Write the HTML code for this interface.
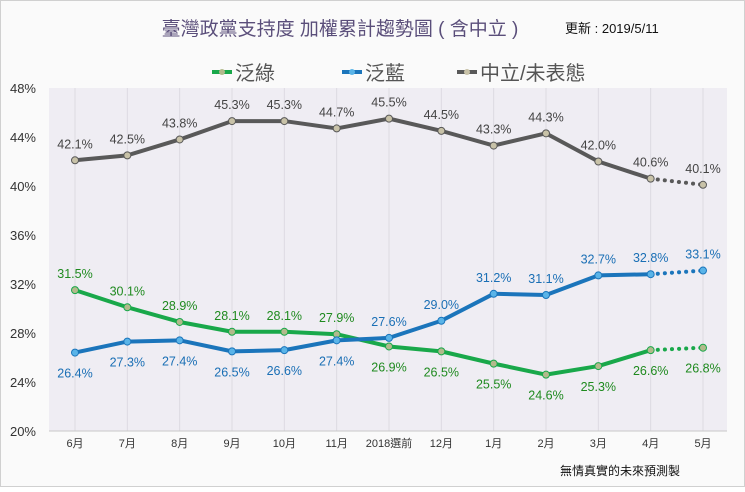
<!DOCTYPE html>
<html><head><meta charset="utf-8"><style>
body{margin:0;background:#fff}
svg text{font-family:"Liberation Sans","Noto Sans CJK TC",sans-serif}
</style></head><body>
<svg width="745" height="487" id="c">
<rect x="0.5" y="0.5" width="744" height="486" fill="#fafafa" stroke="#d0d0d0"/>
<rect x="49" y="88" width="678" height="343" fill="#efedf3"/>
<text x="340" y="35" text-anchor="middle" font-size="19" fill="#5a4e7a">臺灣政黨支持度 加權累計趨勢圖 ( 含中立 )</text>
<text x="565" y="33" font-size="13" fill="#111">更新 : 2019/5/11</text>
<g>
<g><line x1="212" y1="72" x2="232" y2="72" stroke="#19a84a" stroke-width="4"/><circle cx="222" cy="72" r="3" fill="#b2ba8c"/><text x="235" y="80" font-size="20" fill="#555">泛綠</text></g>
<g><line x1="342" y1="72" x2="362" y2="72" stroke="#1b75bb" stroke-width="4"/><circle cx="352" cy="72" r="3" fill="#5ab4e8"/><text x="365" y="80" font-size="20" fill="#555">泛藍</text></g>
<g><line x1="457" y1="72" x2="477" y2="72" stroke="#595959" stroke-width="4"/><circle cx="467" cy="72" r="3" fill="#c8c2a8"/><text x="480" y="80" font-size="20" fill="#555">中立/未表態</text></g>
</g>
<g id="grid"></g><g id="axes"></g><g id="series"></g>
<text x="620" y="475" text-anchor="middle" font-size="12" fill="#111">無情真實的未來預測製</text>
</svg>
<script>
const categories=["6月","7月","8月","9月","10月","11月","2018選前","12月","1月","2月","3月","4月","5月"];
const green=[31.5,30.1,28.9,28.1,28.1,27.9,26.9,26.5,25.5,24.6,25.3,26.6,26.8];
const blue=[26.4,27.3,27.4,26.5,26.6,27.4,27.6,29.0,31.2,31.1,32.7,32.8,33.1];
const gray=[42.1,42.5,43.8,45.3,45.3,44.7,45.5,44.5,43.3,44.3,42.0,40.6,40.1];
const yTicks=[20,24,28,32,36,40,44,48];
const greenBelowFrom=6, blueAboveFrom=6;
const NS="http://www.w3.org/2000/svg";
const x=i=>75+i*(628/(categories.length-1));
const y=v=>431-(v-20)*(343/28);
function mk(t,a,p){const e=document.createElementNS(NS,t);for(const k in a)e.setAttribute(k,a[k]);p.appendChild(e);return e;}
const G=document.getElementById('grid'),A=document.getElementById('axes'),S=document.getElementById('series');
categories.forEach((c,i)=>{
 const l=mk('line',{x1:x(i),x2:x(i),y1:88,y2:431,stroke:'#dcdae2','stroke-width':1},G);
 
 
 const t=mk('text',{x:x(i),y:447,'text-anchor':'middle','font-size':11,fill:'#333'},A);t.textContent=c;
 
 
});
const ax=mk('line',{x1:49,x2:727,y1:431,y2:431,stroke:'#c8c8c8'},A);


yTicks.forEach(v=>{const t=mk('text',{x:36,y:y(v)+5,'text-anchor':'end','font-size':13,fill:'#333'},A);t.textContent=v+'%';
 
 });
function series(vals,col,mcol,tcol,name,below){
 const g=mk('g',{},S);
 
 
 const n=vals.length;
 const pts=vals.slice(0,n-1).map((v,i)=>x(i)+','+y(v)).join(' ');
 const pl=mk('polyline',{points:pts,fill:'none',stroke:col,'stroke-width':4,'stroke-linejoin':'round'},g);
 
 
 const d=mk('line',{x1:x(n-2),y1:y(vals[n-2]),x2:x(n-1),y2:y(vals[n-1]),stroke:col,'stroke-width':4,'stroke-dasharray':'0.1 7','stroke-linecap':'round'},g);
 
 
 vals.forEach((v,i)=>{
  const c=mk('circle',{cx:x(i),cy:y(v),r:3.5,fill:mcol,stroke:col,'stroke-width':1},g);
  
  
  const b=below(i);
  const t=mk('text',{x:x(i),y:b?y(v)+25:y(v)-12,'text-anchor':'middle','font-size':12.5,fill:tcol},g);
  t.textContent=v.toFixed(1)+'%';
  
  
 });
}
series(gray,'#595959','#c8c2a8','#444','gray',i=>false);
series(green,'#19a84a','#b2ba8c','#1f8a1f','green',i=>i>=greenBelowFrom);
series(blue,'#1b75bb','#5ab4e8','#1a6fb5','blue',i=>i<blueAboveFrom);
</script>
</body></html>
